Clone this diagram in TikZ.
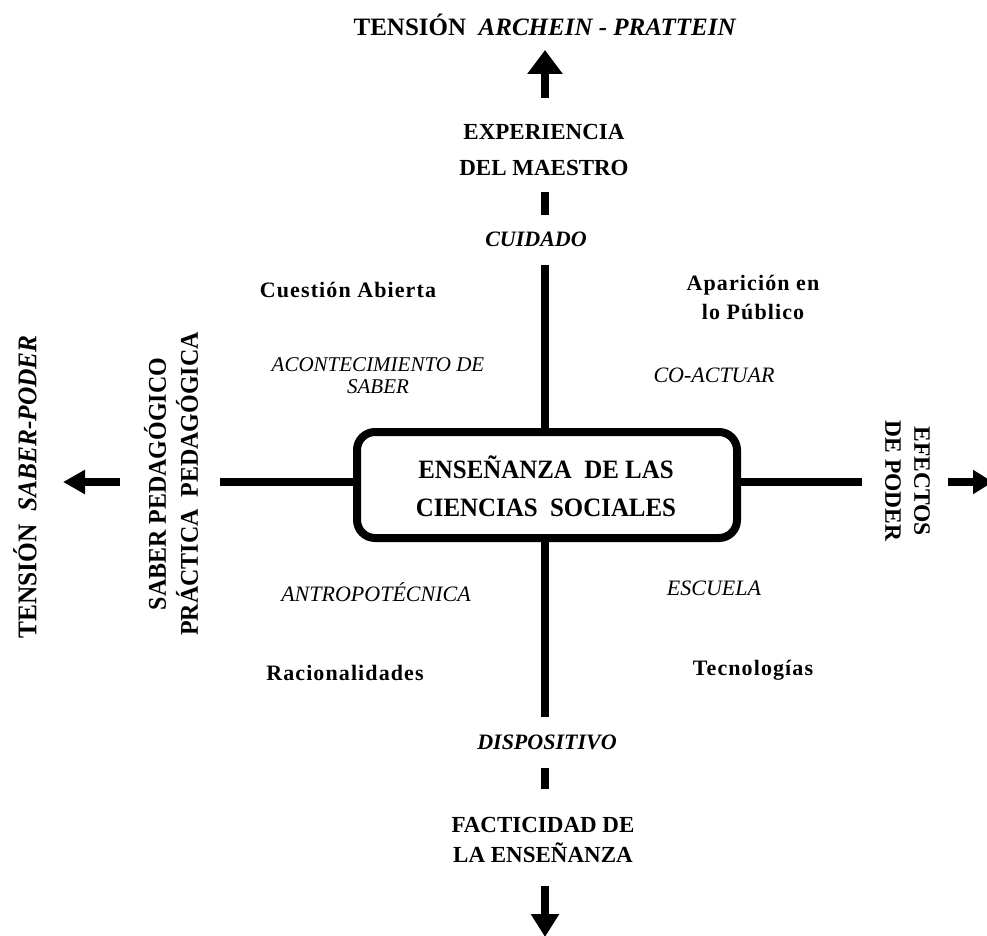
\documentclass[tikz,border=0pt]{standalone}
\usepackage{fontspec}
\setmainfont{Liberation Serif}
\newfontfamily\condserif[FakeStretch=0.94]{Liberation Serif}
\usetikzlibrary{arrows.meta}
\begin{document}
\begin{tikzpicture}[x=1pt,y=-1pt,
  bar/.style={line width=8pt},
  lab/.style={inner sep=0pt,outer sep=0pt,align=center},
  titlef/.style={lab,font=\bfseries\fontsize{25}{30}\selectfont},
  axisb/.style={lab,font=\bfseries\fontsize{23}{#1}\selectfont},
  axisi/.style={lab,font=\bfseries\itshape\fontsize{22}{26}\selectfont},
  quadb/.style={lab,font=\bfseries\fontsize{22}{29}\selectfont\addfontfeature{LetterSpace=5}},
  quadi/.style={lab,font=\itshape\fontsize{22}{22}\selectfont},
  boxtxt/.style={lab,font=\condserif\bfseries\fontsize{26.5}{38}\selectfont},
  sideb/.style={lab,font=\condserif\bfseries\fontsize{#1}{32}\selectfont}
]
\useasboundingbox (0,0) rectangle (987,936);

% central box
\node[draw,line width=8pt,rounded corners=18pt,minimum width=380pt,minimum height=106pt,
      inner sep=0pt] (box) at (547,485) {};
\node[boxtxt] (boxlabel) at (546,486) {ENSEÑANZA~ DE LAS\\CIENCIAS~ SOCIALES};

% top
\node[titlef] (title) at (545,25) {TENSIÓN~ \textit{ARCHEIN - PRATTEIN}};
\node[axisb=36] (exp) at (544,150) {EXPERIENCIA\\DEL MAESTRO};
\node[axisi] (cuidado) at (536,239) {CUIDADO};

% bottom
\node[axisi] (dispo) at (547,742) {DISPOSITIVO};
\node[axisb=30] (fact) at (543,840) {FACTICIDAD DE\\LA ENSEÑANZA};

% left
\node[sideb=27,rotate=90] (tsp) at (25,487) {TENSIÓN~ \textit{SABER-PODER}};
\node[sideb=25.5,rotate=90] (sped) at (171,484) {SABER PEDAGÓGICO\\PRÁCTICA~ PEDAGÓGICA};

% right
\node[lab,font=\bfseries\fontsize{23.5}{29}\selectfont,rotate=-90] (efec) at (907.5,481) {EFECTOS\\DE PODER};

% quadrants
\node[quadb] (cuest) at (348,290) {Cuestión Abierta};
\node[quadb] (apar) at (753,297) {Aparición en\\lo Público};
\node[quadi,font=\itshape\fontsize{21}{22}\selectfont] (acont) at (378,376) {ACONTECIMIENTO DE\\SABER};
\node[quadi] (coact) at (714,375) {CO-ACTUAR};
\node[quadi] (antro) at (376,592) {ANTROPOTÉCNICA};
\node[quadi] (escu) at (714,588) {ESCUELA};
\node[quadb] (racio) at (345,673) {Racionalidades};
\node[quadb] (tecno) at (753,670) {Tecnologías};

% connector end points
\coordinate (tarrowS) at (545,98);
\coordinate (tarrowE) at (545,50);
\coordinate (tdashA) at (545,192);
\coordinate (tdashB) at (545,215);
\coordinate (tline) at (545,265);
\coordinate (bline) at (545,717);
\coordinate (bdashA) at (545,768);
\coordinate (bdashB) at (545,789);
\coordinate (barrowS) at (545,886);
\coordinate (barrowE) at (545,937);
\coordinate (lline) at (220,482);
\coordinate (larrowS) at (120,482);
\coordinate (larrowE) at (63,482);
\coordinate (rline) at (862,482);
\coordinate (rarrowS) at (948,482);
\coordinate (rarrowE) at (993,482);

% axes
\draw[bar] (tline) -- (tline |- box.north);
\draw[bar] (tdashA) -- (tdashB);
\draw[bar,-{Triangle[length=24pt,width=34pt]}] (tarrowS) -- (tarrowE);
\draw[bar] (box.south -| bline) -- (bline);
\draw[bar] (bdashA) -- (bdashB);
\draw[bar,-{Triangle[length=23pt,width=27pt]}] (barrowS) -- (barrowE);
\draw[bar] (lline) -- (lline -| box.west);
\draw[bar,-{Triangle[length=22pt,width=23pt]}] (larrowS) -- (larrowE);
\draw[bar] (box.east |- rline) -- (rline);
\draw[bar,-{Triangle[length=20pt,width=23pt]}] (rarrowS) -- (rarrowE);
\end{tikzpicture}
\end{document}
